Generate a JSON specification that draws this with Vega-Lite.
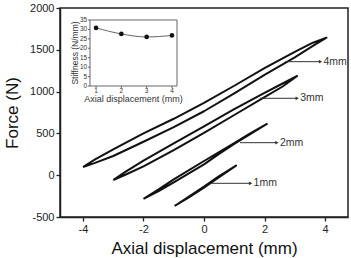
{
  "$schema": "https://vega.github.io/schema/vega-lite/v6.json",
  "width": 288,
  "height": 209,
  "autosize": {"type": "none"},
  "padding": {"left": 60, "top": 8, "right": 3, "bottom": 41},
  "background": "white",
  "config": {
    "font": "Liberation Sans",
    "view": {"stroke": "#222", "strokeWidth": 1.5},
    "axis": {"grid": false, "domainColor": "#222", "domainWidth": 1.5, "tickColor": "#222", "tickWidth": 1.3, "tickSize": 4, "labelColor": "#222", "labelFontSize": 11, "labelPadding": 2, "titleColor": "#111", "titleFontSize": 17, "titleFontWeight": "normal"}
  },
  "datasets": {
    "loops": [
      {"loop": "4mm", "i": 0, "x": -4, "y": 98},
      {"loop": "4mm", "i": 1, "x": -3.6, "y": 190},
      {"loop": "4mm", "i": 2, "x": -3, "y": 310},
      {"loop": "4mm", "i": 3, "x": -2, "y": 500},
      {"loop": "4mm", "i": 4, "x": -1, "y": 675},
      {"loop": "4mm", "i": 5, "x": 0, "y": 865},
      {"loop": "4mm", "i": 6, "x": 1, "y": 1070},
      {"loop": "4mm", "i": 7, "x": 2, "y": 1280},
      {"loop": "4mm", "i": 8, "x": 3, "y": 1475},
      {"loop": "4mm", "i": 9, "x": 3.6, "y": 1585},
      {"loop": "4mm", "i": 10, "x": 4.05, "y": 1645},
      {"loop": "4mm", "i": 11, "x": 3.6, "y": 1548},
      {"loop": "4mm", "i": 12, "x": 3, "y": 1410},
      {"loop": "4mm", "i": 13, "x": 2, "y": 1200},
      {"loop": "4mm", "i": 14, "x": 1, "y": 980},
      {"loop": "4mm", "i": 15, "x": 0, "y": 765},
      {"loop": "4mm", "i": 16, "x": -1, "y": 575},
      {"loop": "4mm", "i": 17, "x": -2, "y": 400},
      {"loop": "4mm", "i": 18, "x": -3, "y": 230},
      {"loop": "4mm", "i": 19, "x": -3.6, "y": 147},
      {"loop": "4mm", "i": 20, "x": -4, "y": 98},
      {"loop": "3mm", "i": 0, "x": -3, "y": -57},
      {"loop": "3mm", "i": 1, "x": -2.6, "y": 40},
      {"loop": "3mm", "i": 2, "x": -2, "y": 175},
      {"loop": "3mm", "i": 3, "x": -1, "y": 380},
      {"loop": "3mm", "i": 4, "x": 0, "y": 585},
      {"loop": "3mm", "i": 5, "x": 1, "y": 790},
      {"loop": "3mm", "i": 6, "x": 2, "y": 985},
      {"loop": "3mm", "i": 7, "x": 2.6, "y": 1097},
      {"loop": "3mm", "i": 8, "x": 3.08, "y": 1187},
      {"loop": "3mm", "i": 9, "x": 2.6, "y": 1061},
      {"loop": "3mm", "i": 10, "x": 2, "y": 935},
      {"loop": "3mm", "i": 11, "x": 1, "y": 720},
      {"loop": "3mm", "i": 12, "x": 0, "y": 505},
      {"loop": "3mm", "i": 13, "x": -1, "y": 300},
      {"loop": "3mm", "i": 14, "x": -2, "y": 105},
      {"loop": "3mm", "i": 15, "x": -2.6, "y": 5},
      {"loop": "3mm", "i": 16, "x": -3, "y": -57},
      {"loop": "2mm", "i": 0, "x": -2, "y": -284},
      {"loop": "2mm", "i": 1, "x": -1.5, "y": -170},
      {"loop": "2mm", "i": 2, "x": -1, "y": -50},
      {"loop": "2mm", "i": 3, "x": 0, "y": 170},
      {"loop": "2mm", "i": 4, "x": 0.5, "y": 275},
      {"loop": "2mm", "i": 5, "x": 1, "y": 385},
      {"loop": "2mm", "i": 6, "x": 1.5, "y": 495},
      {"loop": "2mm", "i": 7, "x": 2.08, "y": 613},
      {"loop": "2mm", "i": 8, "x": 1.5, "y": 485},
      {"loop": "2mm", "i": 9, "x": 1, "y": 375},
      {"loop": "2mm", "i": 10, "x": 0.5, "y": 255},
      {"loop": "2mm", "i": 11, "x": 0, "y": 130},
      {"loop": "2mm", "i": 12, "x": -1, "y": -85},
      {"loop": "2mm", "i": 13, "x": -1.5, "y": -190},
      {"loop": "2mm", "i": 14, "x": -2, "y": -284},
      {"loop": "1mm", "i": 0, "x": -0.97, "y": -368},
      {"loop": "1mm", "i": 1, "x": -0.5, "y": -255},
      {"loop": "1mm", "i": 2, "x": 0, "y": -135},
      {"loop": "1mm", "i": 3, "x": 0.5, "y": -10},
      {"loop": "1mm", "i": 4, "x": 1.06, "y": 115},
      {"loop": "1mm", "i": 5, "x": 0.5, "y": -25},
      {"loop": "1mm", "i": 6, "x": 0, "y": -150},
      {"loop": "1mm", "i": 7, "x": -0.5, "y": -265},
      {"loop": "1mm", "i": 8, "x": -0.97, "y": -368}
    ],
    "arrows": [
      {"label": "4mm", "xs": 2.68, "xe": 3.85, "y": 1358},
      {"label": "3mm", "xs": 1.85, "xe": 3.08, "y": 920},
      {"label": "2mm", "xs": 1.19, "xe": 2.41, "y": 389},
      {"label": "1mm", "xs": 0.25, "xe": 1.54, "y": -97}
    ],
    "stiff": [
      {"d": 1, "k": 30.8},
      {"d": 2, "k": 27.6},
      {"d": 3, "k": 26.0},
      {"d": 4, "k": 26.8}
    ],
    "xt": [{"v": 1}, {"v": 2}, {"v": 3}, {"v": 4}],
    "yt": [{"v": 0}, {"v": 5}, {"v": 10}, {"v": 15}, {"v": 20}, {"v": 25}, {"v": 30}, {"v": 35}],
    "one": [{"a": 1}]
  },
  "resolve": {"scale": {"x": "independent", "y": "independent"}, "axis": {"x": "independent", "y": "independent"}},
  "layer": [
    {
      "layer": [
        {
          "data": {"name": "loops"},
          "mark": {"type": "line", "stroke": "#111", "strokeWidth": 2, "strokeJoin": "round"},
          "encoding": {
            "x": {"field": "x", "type": "quantitative", "scale": {"domain": [-4.76, 4.76], "nice": false, "zero": false},
              "axis": {"values": [-4, -3, -2, -1, 0, 1, 2, 3, 4], "title": "Axial displacement (mm)", "titlePadding": 6,
                "labelExpr": "datum.value < 0 ? '-' + abs(datum.value) : '' + datum.value"}},
            "y": {"field": "y", "type": "quantitative", "scale": {"domain": [-500, 2000], "nice": false, "zero": false},
              "axis": {"values": [-500, -250, 0, 250, 500, 750, 1000, 1250, 1500, 1750, 2000], "title": "Force (N)", "titlePadding": 8,
                "labelExpr": "datum.value % 500 === 0 ? (datum.value < 0 ? '-' + abs(datum.value) : '' + datum.value) : ''"}},
            "detail": {"field": "loop"},
            "order": {"field": "i", "type": "quantitative"}
          }
        },
        {
          "data": {"name": "arrows"},
          "mark": {"type": "rule", "stroke": "#333", "strokeWidth": 1},
          "encoding": {
            "x": {"field": "xs", "type": "quantitative"},
            "x2": {"field": "xe"},
            "y": {"field": "y", "type": "quantitative"}
          }
        },
        {
          "data": {"name": "arrows"},
          "mark": {"type": "point", "shape": "triangle-right", "filled": true, "color": "#333", "size": 14, "opacity": 1},
          "encoding": {
            "x": {"field": "xe", "type": "quantitative"},
            "y": {"field": "y", "type": "quantitative"}
          }
        },
        {
          "data": {"name": "arrows"},
          "mark": {"type": "text", "align": "left", "baseline": "middle", "dx": 3, "fontSize": 10.5, "color": "#333"},
          "encoding": {
            "x": {"field": "xe", "type": "quantitative"},
            "y": {"field": "y", "type": "quantitative"},
            "text": {"field": "label"}
          }
        }
      ]
    },
    {
      "layer": [
        {
          "data": {"name": "one"},
          "mark": {"type": "rect", "fill": "white", "stroke": "#666", "strokeWidth": 1},
          "encoding": {
            "x": {"datum": 0.76, "type": "quantitative", "scale": {"domain": [-0.426, 10.96], "nice": false, "zero": false}, "axis": null},
            "x2": {"datum": 4.2},
            "y": {"datum": 0, "type": "quantitative", "scale": {"domain": [-69.46, 41.36], "nice": false, "zero": false}, "axis": null},
            "y2": {"datum": 35}
          }
        },
        {
          "data": {"name": "xt"},
          "mark": {"type": "rule", "stroke": "#666", "strokeWidth": 1},
          "encoding": {
            "x": {"field": "v", "type": "quantitative"},
            "y": {"datum": 0, "type": "quantitative"},
            "y2": {"datum": -1.1}
          }
        },
        {
          "data": {"name": "yt"},
          "mark": {"type": "rule", "stroke": "#666", "strokeWidth": 1},
          "encoding": {
            "y": {"field": "v", "type": "quantitative"},
            "x": {"datum": 0.76, "type": "quantitative"},
            "x2": {"datum": 0.68}
          }
        },
        {
          "data": {"name": "xt"},
          "mark": {"type": "text", "align": "center", "baseline": "middle", "fontSize": 6.5, "color": "#333"},
          "encoding": {
            "x": {"field": "v", "type": "quantitative"},
            "y": {"datum": -2.6, "type": "quantitative"},
            "text": {"field": "v", "type": "quantitative"}
          }
        },
        {
          "data": {"name": "yt"},
          "mark": {"type": "text", "align": "right", "baseline": "middle", "fontSize": 6.5, "color": "#333"},
          "encoding": {
            "y": {"field": "v", "type": "quantitative"},
            "x": {"datum": 0.65, "type": "quantitative"},
            "text": {"field": "v", "type": "quantitative"}
          }
        },
        {
          "data": {"name": "one"},
          "mark": {"type": "text", "align": "center", "baseline": "middle", "fontSize": 9, "color": "#333", "text": "Axial displacement (mm)"},
          "encoding": {
            "x": {"datum": 2.48, "type": "quantitative"},
            "y": {"datum": -6.7, "type": "quantitative"}
          }
        },
        {
          "data": {"name": "one"},
          "mark": {"type": "text", "align": "center", "baseline": "middle", "fontSize": 8.5, "angle": 270, "color": "#333", "text": "Stiffness (N/mm)"},
          "encoding": {
            "x": {"datum": 0.15, "type": "quantitative"},
            "y": {"datum": 17.5, "type": "quantitative"}
          }
        },
        {
          "data": {"name": "stiff"},
          "mark": {"type": "line", "stroke": "#666", "strokeWidth": 1, "interpolate": "monotone"},
          "encoding": {
            "x": {"field": "d", "type": "quantitative"},
            "y": {"field": "k", "type": "quantitative"}
          }
        },
        {
          "data": {"name": "stiff"},
          "mark": {"type": "point", "filled": true, "color": "#111", "size": 22, "opacity": 1},
          "encoding": {
            "x": {"field": "d", "type": "quantitative"},
            "y": {"field": "k", "type": "quantitative"}
          }
        }
      ]
    }
  ]
}
